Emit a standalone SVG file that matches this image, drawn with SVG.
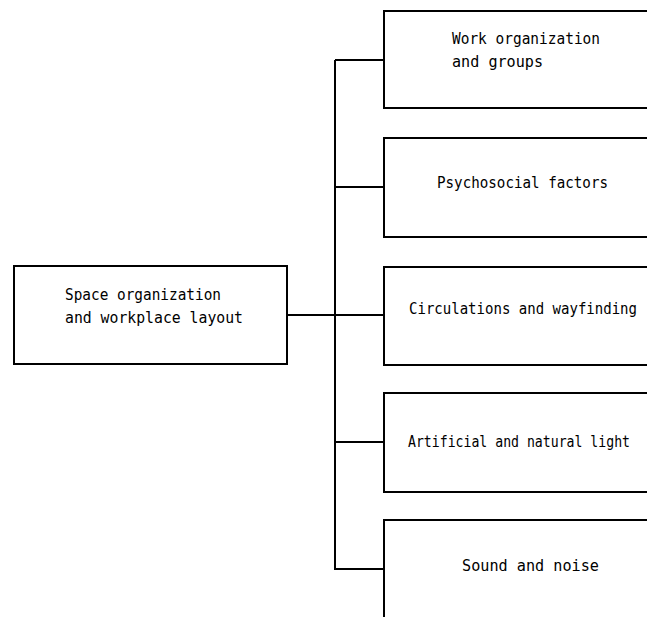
<svg xmlns="http://www.w3.org/2000/svg" width="647" height="617" viewBox="0 0 647 617">
<style>
.box{fill:#fff;stroke:#000;stroke-width:2}
.lbl{font-family:"DejaVu Sans Mono","Liberation Mono",monospace;font-size:15.5px;fill:#000}
.con{fill:none;stroke:#000;stroke-width:2}
</style>
<rect width="647" height="617" fill="#fff"/>
<g id="connectors">
<path class="con" d="M287 315H384"/>
<path class="con" d="M335 60V570"/>
<path class="con" d="M335 60H384M335 187H384M335 442H384M335 569H384"/>
<rect x="285" y="312" width="3" height="6" fill="#000"/>
</g>
<g id="space">
<rect class="box" x="14" y="266" width="273" height="98"/>
<text class="lbl" x="65" y="300" textLength="156" lengthAdjust="spacingAndGlyphs">Space organization</text>
<text class="lbl" x="65" y="323" textLength="178" lengthAdjust="spacingAndGlyphs">and workplace layout</text>
</g>
<g id="work">
<rect class="box" x="384" y="11" width="270" height="97"/>
<text class="lbl" x="452" y="44" textLength="148" lengthAdjust="spacingAndGlyphs">Work organization</text>
<text class="lbl" x="452" y="67" textLength="91" lengthAdjust="spacingAndGlyphs">and groups</text>
</g>
<g id="psycho">
<rect class="box" x="384" y="138" width="270" height="99"/>
<text class="lbl" x="437" y="188" textLength="171" lengthAdjust="spacingAndGlyphs">Psychosocial factors</text>
</g>
<g id="circ">
<rect class="box" x="384" y="267" width="270" height="98"/>
<text class="lbl" x="409" y="314" textLength="228" lengthAdjust="spacingAndGlyphs">Circulations and wayfinding</text>
</g>
<g id="light">
<rect class="box" x="384" y="393" width="270" height="99"/>
<text class="lbl" x="408" y="447" textLength="222" lengthAdjust="spacingAndGlyphs">Artificial and natural light</text>
</g>
<g id="sound">
<rect class="box" x="384" y="520" width="270" height="110"/>
<text class="lbl" x="462" y="571" textLength="137" lengthAdjust="spacingAndGlyphs">Sound and noise</text>
</g>
</svg>
